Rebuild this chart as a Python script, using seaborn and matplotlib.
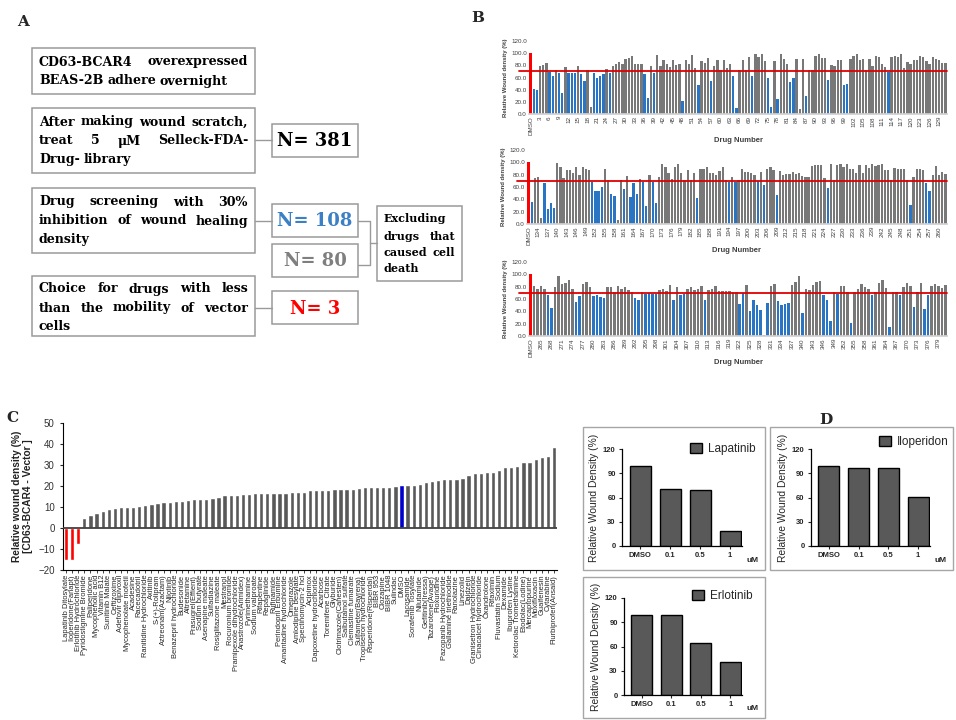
import numpy as np
import pandas as pd
import seaborn as sns
import matplotlib.pyplot as plt
from matplotlib.patches import Rectangle, Patch

# ---- data ----
# panel B: relative wound density (%), first value is DMSO
row1_vals = [100, 41, 40, 79, 81, 84, 69, 62, 73, 67, 34, 78, 67, 68, 68, 79, 65, 55, 72, 12,
             68, 59, 63, 66, 74, 67, 79, 83, 85, 83, 90, 92, 95, 83, 83, 83, 66, 27, 79, 68,
             97, 79, 88, 82, 78, 88, 80, 82, 21, 88, 82, 97, 75, 48, 87, 84, 92, 55, 79, 88,
             72, 89, 76, 83, 63, 10, 72, 88, 72, 94, 63, 98, 94, 99, 87, 59, 11, 87, 24, 99,
             90, 82, 53, 60, 91, 8, 90, 30, 73, 72, 96, 98, 92, 92, 56, 81, 79, 89, 89, 47,
             49, 90, 95, 98, 89, 91, 72, 90, 79, 95, 94, 82, 77, 69, 93, 96, 94, 98, 75, 86,
             83, 89, 89, 95, 93, 87, 82, 94, 91, 88, 84, 84]
row2_vals = [100, 36, 74, 76, 10, 67, 24, 34, 26, 99, 92, 75, 87, 87, 83, 92, 80, 93, 90, 87,
             68, 53, 53, 60, 89, 71, 48, 46, 6, 71, 57, 78, 44, 66, 48, 73, 68, 30, 80, 68,
             34, 77, 97, 92, 82, 73, 93, 97, 83, 71, 87, 72, 83, 42, 90, 89, 93, 82, 82, 79,
             86, 93, 72, 68, 76, 68, 72, 90, 85, 84, 82, 80, 69, 85, 64, 90, 93, 87, 47, 86,
             79, 81, 81, 85, 81, 82, 78, 77, 76, 94, 96, 95, 96, 74, 59, 97, 72, 96, 98, 93,
             97, 90, 89, 82, 95, 83, 96, 91, 97, 94, 96, 98, 87, 88, 72, 91, 89, 89, 89, 72,
             31, 77, 89, 90, 87, 67, 54, 80, 94, 79, 84, 81]
row3_vals = [100, 81, 77, 81, 77, 66, 45, 79, 97, 84, 86, 91, 77, 55, 65, 84, 88, 80, 65, 66,
             64, 61, 80, 80, 71, 81, 76, 80, 75, 72, 62, 59, 72, 68, 69, 68, 68, 75, 76, 73,
             82, 58, 80, 67, 68, 77, 79, 75, 77, 81, 58, 75, 76, 81, 73, 73, 73, 73, 71, 72,
             52, 69, 83, 41, 58, 51, 42, 1, 53, 81, 84, 57, 50, 52, 54, 82, 88, 97, 37, 77,
             75, 82, 87, 90, 66, 59, 24, 71, 68, 81, 81, 72, 21, 71, 77, 84, 80, 77, 66, 72,
             86, 91, 78, 15, 71, 71, 67, 79, 86, 81, 47, 72, 86, 44, 67, 81, 84, 81, 78, 82]
row_offsets = [0, 131, 262]
cell_death = [19, 85, 135, 159, 329]   # drugs shown grey although below cut-off
cutoff = 70

# panel C: CD63-BCAR4 minus vector (%)
c_names = ["Lapatinib Ditosylate", "Iloperidone(Fanapt)", "Erlotinib Hydrochloride",
           "Pyridostigmine Bromide", "Paliperidone", "Mycophenolic acid", "Vitamin B12",
           "Sunitinib Malate", "Ceftizoxime", "Adefovir dipivoxil", "Mycophenolate mofetil",
           "Acadesine", "Racecadotril", "Ranitidine Hydrochloride", "Axitinib", "S-(+)-Rolipram",
           "Aztreonam(Azactam)", "Nilotinib", "Benazepril hydrochloride", "Budesonide",
           "Altretamine", "Prasugrel(Effient)", "Sodium butyrate", "Asenapine maleate",
           "Sulfadiazine", "Rosiglitazone maleate", "Mestranol", "Rocuronium bromide",
           "Pramipexole dihydrochloride", "Anastrozole(Arimidex)", "Pyrimethamine",
           "Sodium valproate", "Rifapentine", "Repaglinide", "Rufinamide", "Perindopril Erbumine",
           "Amantadine hydrochloride", "Omeprazole", "Amlodipine besylate", "Spectinomycin·2 hcl",
           "Acipimox", "Dapoxetine hydrochloride", "Acarbose", "Toremifene Citrate", "Glyburide",
           "Clotrimazole(Canesten)", "Salbutamol sulfate", "Clemastine fumarate",
           "Sulfameter(Bayrena)", "Tropisetron hydrochloride", "Risperidone(Risperdal)",
           "BIBR 953", "Clozapine", "BIBR 1048", "Sulindac", "DMSO", "Lacosamide",
           "Sorafenib Tosylate", "Nilutamide", "Gefitinib(Iressa)", "Tazarotene(Avage)",
           "Floxuridine", "Pazopanib Hydrochloride", "Gallamine triethiodide", "Ranolazine",
           "Linezolid", "Daidzein", "Granisetron Hydrochloride", "Cinacalcet hydrochloride",
           "Oxandrolone", "Rifaximin", "Fluvastatin Sodium", "Dexamide", "Ibuprofen Lysine",
           "Ketorolac Tromethamine", "Etodolac(Lodine)", "Mercaptopurine", "Moxifloxacin",
           "Guaifenesin", "Cytarabine", "Flurbiprofen(Ansaid)"]
c_vals = [-15, -15, -7.5,
          5, 6, 7, 8, 9, 9.5, 9.8, 10, 10, 10.5, 10.8, 11.5, 12, 12.2, 12.5, 13, 13, 13.5, 13.8,
          14, 14, 14.3, 14.8, 15.5, 15.5, 15.8, 16, 16, 16.5, 16.5, 16.5, 16.5, 16.5, 16.8, 17,
          17, 17.3, 18, 18.2, 18.3, 18.3, 18.5, 18.5, 18.5, 18.8, 19.2, 19.3, 19.3, 19.5, 19.5,
          19.7, 20, 20.4,
          20.6, 20.7, 21, 21.8, 22.3, 22.8, 23.2, 23.5, 23.5, 24, 25.3, 26, 26.3, 26.8, 26.8,
          27.4, 29, 29.2, 29.7, 31.3, 31.3, 33, 33.7, 34.5, 38.5]
c_hits = ["Lapatinib Ditosylate", "Iloperidone(Fanapt)", "Erlotinib Hydrochloride"]

# panel D: dose response
d_doses = ["DMSO", "0.1", "0.5", "1"]
d_drugs = ["Lapatinib", "Iloperidon", "Erlotinib"]
d_vals = [[99, 71, 69, 19], [99, 97, 96, 61], [99, 99, 64, 41]]

# ---- figure ----
sns.set_theme(style="white")
plt.rcParams['font.family'] = ['Liberation Sans', 'DejaVu Sans']

W, H = 956, 720
fig = plt.figure(figsize=(9.56, 7.2), dpi=100)


def pos(x0, y0, x1, y1):
    return [x0 / W, 1 - y1 / H, (x1 - x0) / W, (y1 - y0) / H]


canvas = fig.add_axes([0, 0, 1, 1])
canvas.set_xlim(0, W)
canvas.set_ylim(H, 0)
canvas.axis('off')
renderer = fig.canvas.get_renderer()

# panel letters
for letter, x, y in [("A", 23, 22), ("B", 478, 18), ("C", 12, 418), ("D", 826, 420)]:
    canvas.text(x, y, letter, fontsize=11, fontweight='bold', family='DejaVu Serif',
                ha='center', va='center')

# ---- panel A flow chart ----
serif = dict(family='DejaVu Serif', fontweight='bold', va='center')


def justified(line, x0, x1, y, size, justify=True, color='black'):
    words = line.split()
    texts = [canvas.text(0, y, w, fontsize=size, color=color, **serif) for w in words]
    widths = [t.get_window_extent(renderer).width for t in texts]
    gap = (x1 - x0 - sum(widths)) / (len(words) - 1) if justify and len(words) > 1 else size * 0.4
    x = x0
    for t, w in zip(texts, widths):
        t.set_x(x)
        x += w + gap


def frame(x0, y0, x1, y1):
    canvas.add_patch(Rectangle((x0, y0), x1 - x0, y1 - y0, fill=False,
                               edgecolor='#9a9a9a', lw=1.1))


steps = [
    ((32, 48, 255, 94), ["CD63-BCAR4 overexpressed", "BEAS-2B adhere overnight"], [62, 81]),
    ((32, 108, 255, 173), ["After making wound scratch,", "treat 5 μM Selleck-FDA-", "Drug- library"],
     [122, 141, 160]),
    ((32, 188, 255, 253), ["Drug screening with 30%", "inhibition of wound healing", "density"],
     [202, 221, 240]),
    ((32, 276, 255, 336), ["Choice for drugs with less", "than the mobility of vector", "cells"],
     [289, 308, 326]),
]
for (x0, y0, x1, y1), lines, ys in steps:
    frame(x0, y0, x1, y1)
    for k, (line, y) in enumerate(zip(lines, ys)):
        justified(line, 39, 248, y, 9.1, justify=(k < len(lines) - 1))

counts = [("N= 381", 124, 157, 'black'), ("N= 108", 204, 237, '#3b7fc4'),
          ("N= 80", 244, 277, '#7f7f7f'), ("N= 3", 291, 324, '#ff0000')]
for label, y0, y1, col in counts:
    frame(272, y0, 358, y1)
    canvas.text(315, (y0 + y1) / 2 + 1, label, fontsize=13, color=col, ha='center', **serif)
for ymid in [140, 221, 308]:
    canvas.plot([255, 272], [ymid, ymid], color='#9a9a9a', lw=1)
canvas.plot([358, 370, 370, 358], [221, 221, 265, 265], color='#9a9a9a', lw=1)
canvas.plot([370, 377], [243, 243], color='#9a9a9a', lw=1)
frame(377, 206, 462, 281)
for line, y in zip(["Excluding", "drugs that", "caused cell", "death"], [219, 236, 252, 269]):
    justified(line, 384, 455, y, 8.0, justify=(line != "Excluding" and line != "death"))

# ---- panel B screening ----
b_pos = [(529, 41, 947, 114), (527, 150, 947, 224), (529, 262, 947, 336)]
for vals, off, p in zip([row1_vals, row2_vals, row3_vals], row_offsets, b_pos):
    labels = ["DMSO"] + [str(off + i) for i in range(1, len(vals))]
    colors = {}
    for lab, v in zip(labels, vals):
        if lab == "DMSO":
            colors[lab] = '#ff0000'
        elif v < cutoff and int(lab) not in cell_death:
            colors[lab] = '#2a74c4'
        else:
            colors[lab] = '#787878'
    df = pd.DataFrame({'drug': labels, 'density': vals})
    ax = fig.add_axes(pos(*p))
    sns.barplot(data=df, x='drug', y='density', hue='drug', palette=colors, legend=False,
                width=0.72, saturation=1, linewidth=0, ax=ax)
    ax.axhline(cutoff, xmin=-0.025, xmax=1.0, color='#e00000', lw=1.3, clip_on=False, zorder=5)
    ax.set_xlim(-0.5, len(vals) - 0.5)
    ax.set_ylim(0, 120)
    ax.set_yticks(np.arange(0, 121, 20))
    ax.set_yticklabels([f"{t:.1f}" for t in np.arange(0, 121, 20)], fontsize=4.5, color='#404040')
    ticks = list(range(0, len(vals), 3))
    ax.set_xticks(ticks)
    ax.set_xticklabels([labels[i] for i in ticks], rotation=90, fontsize=4.5, color='#404040')
    ax.tick_params(length=0, pad=1.5)
    ax.set_xlabel("Drug Number", fontsize=5.5, fontweight='bold', color='#404040', labelpad=2)
    ax.set_ylabel("Relative Wound density (%)", fontsize=4.3, fontweight='bold', color='#404040',
                  labelpad=2)
    sns.despine(ax=ax, left=True)
    ax.spines['bottom'].set_color('#d0d0d0')
    ax.patch.set_alpha(0)

# ---- panel C ----
c_colors = {n: ('#ff0000' if n in c_hits else '#0000cc' if n == 'DMSO' else '#595959')
            for n in c_names}
dfc = pd.DataFrame({'drug': c_names, 'diff': c_vals})
axc = fig.add_axes(pos(63, 423, 557, 570))
sns.barplot(data=dfc, x='drug', y='diff', hue='drug', palette=c_colors, legend=False,
            width=0.7, saturation=1, ax=axc)
axc.axhline(0, color='#404040', lw=1.3, zorder=5)
axc.set_xlim(-0.5, len(c_names) - 0.5)
axc.set_ylim(-20, 50)
axc.set_yticks(range(-20, 51, 10))
axc.tick_params(axis='y', labelsize=7, labelcolor='#333333', length=2.5, width=0.8,
                direction='out', left=True)
axc.tick_params(axis='x', labelsize=5.4, rotation=90, length=2.5, width=0.6,
                direction='out', bottom=True, pad=1)
axc.set_xlabel("")
axc.set_ylabel("Relative wound density (%)\n[CD63-BCAR4 - Vector ]", fontsize=7.3,
               fontweight='bold', color='#222222', labelpad=4, linespacing=1.05)
sns.despine(ax=axc)
for s in ['left', 'bottom']:
    axc.spines[s].set_color('black')
    axc.spines[s].set_linewidth(0.8)
axc.patch.set_alpha(0)

# ---- panel D ----
d_frames = [(583, 427, 765, 570), (770, 427, 953, 570), (583, 577, 765, 718)]
d_axes = [(622, 449, 742, 546), (811, 449, 930, 546), (624, 598, 742, 695)]
d_leg = [(690, 443), (879, 436), (692, 590)]
for drug, vals, fr, p, lg in zip(d_drugs, d_vals, d_frames, d_axes, d_leg):
    canvas.add_patch(Rectangle((fr[0], fr[1]), fr[2] - fr[0], fr[3] - fr[1], fill=False,
                               edgecolor='#a6a6a6', lw=1))
    dfd = pd.DataFrame({'dose': d_doses, 'density': vals})
    ax = fig.add_axes(pos(*p))
    sns.barplot(data=dfd, x='dose', y='density', color='#595959', saturation=1, width=0.7,
                edgecolor='black', linewidth=1, ax=ax)
    ax.set_xlim(-0.6, 3.4)
    ax.set_ylim(0, 120)
    ax.set_yticks(range(0, 121, 30))
    ax.tick_params(labelsize=5.5, length=2.5, width=0.8, direction='out', left=True,
                   bottom=True, pad=2)
    for t in ax.get_xticklabels() + ax.get_yticklabels():
        t.set_fontweight('bold')
    ax.set_xlabel("")
    ax.set_ylabel("Relative Wound Density (%)", fontsize=7.4, labelpad=3)
    sns.despine(ax=ax)
    for s in ['left', 'bottom']:
        ax.spines[s].set_color('black')
        ax.spines[s].set_linewidth(0.9)
    ax.patch.set_alpha(0)
    ax.legend(handles=[Patch(facecolor='#595959', edgecolor='black', label=drug)],
              loc='upper left', bbox_to_anchor=lg, bbox_transform=canvas.transData,
              frameon=False, fontsize=8.5, handlelength=1.0, handleheight=0.9,
              handletextpad=0.5, borderpad=0, borderaxespad=0)
    canvas.text(p[2] + 11, p[3] + 14, "uM", fontsize=6, fontweight='bold', ha='center',
                va='center')

fig.savefig("out.png", dpi=100)
